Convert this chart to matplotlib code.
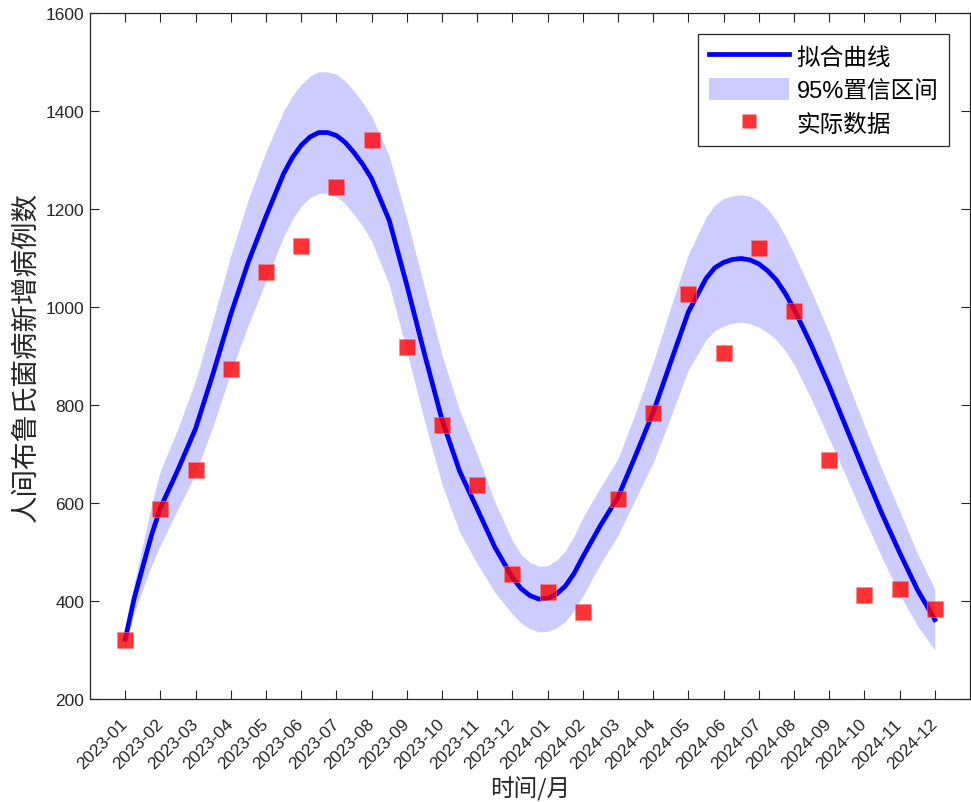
import matplotlib
matplotlib.use("Agg")
import matplotlib.pyplot as plt
from matplotlib.patches import Patch
from matplotlib.lines import Line2D
import matplotlib.transforms as mtrans

plt.rcParams['font.family'] = ['Liberation Sans', 'Noto Sans CJK SC', 'DejaVu Sans']
plt.rcParams['axes.unicode_minus'] = False

# ---- data ----
months = ['2023-01', '2023-02', '2023-03', '2023-04', '2023-05', '2023-06',
          '2023-07', '2023-08', '2023-09', '2023-10', '2023-11', '2023-12',
          '2024-01', '2024-02', '2024-03', '2024-04', '2024-05', '2024-06',
          '2024-07', '2024-08', '2024-09', '2024-10', '2024-11', '2024-12']
actual = [320, 588, 668, 873, 1072, 1125, 1245, 1340, 918, 760, 637, 455,
          418, 378, 608, 783, 1027, 907, 1120, 992, 688, 413, 425, 384]

# fitted curve and 95% band, read along the month index (0 = 2023-01)
fit_t = [0, 0.25, 0.5, 0.75, 1, 1.5, 2, 2.5, 3, 3.5, 4, 4.5, 4.75, 5, 5.25,
         5.5, 5.75, 6, 6.25, 6.5, 6.75, 7, 7.5, 8, 8.5, 9, 9.5, 10, 10.5, 11,
         11.25, 11.5, 11.75, 12, 12.25, 12.5, 12.75, 13, 13.5, 14, 14.5, 15,
         15.5, 16, 16.5, 16.75, 17, 17.25, 17.5, 17.75, 18, 18.25, 18.5,
         18.75, 19, 19.5, 20, 20.5, 21, 21.5, 22, 22.5, 23]
fit_y = [322, 404, 470, 535, 590, 668, 752, 865, 985, 1092, 1185, 1272, 1305,
         1330, 1347, 1356, 1356, 1350, 1336, 1315, 1291, 1262, 1177, 1045,
         905, 770, 665, 588, 510, 448, 425, 411, 404, 405, 414, 430, 456, 490,
         554, 612, 697, 785, 888, 990, 1058, 1080, 1091, 1097, 1099, 1096,
         1088, 1074, 1055, 1028, 996, 921, 839, 751, 663, 578, 499, 424, 362]
band_hi = [337, 434, 515, 597, 666, 752, 850, 975, 1105, 1220, 1317, 1400,
           1431, 1454, 1471, 1480, 1480, 1475, 1461, 1441, 1417, 1389, 1308,
           1180, 1041, 902, 789, 700, 602, 523, 495, 479, 471, 472, 483, 502,
           532, 570, 632, 690, 785, 887, 1000, 1108, 1183, 1208, 1221, 1227,
           1229, 1226, 1217, 1200, 1177, 1145, 1109, 1031, 947, 851, 758, 668,
           584, 498, 424]
band_lo = [307, 374, 425, 473, 514, 588, 660, 758, 866, 964, 1053, 1144, 1179,
           1206, 1223, 1232, 1232, 1225, 1211, 1189, 1165, 1135, 1046, 910,
           769, 638, 541, 476, 418, 373, 355, 343, 337, 338, 345, 358, 380,
           410, 476, 534, 609, 683, 776, 872, 933, 952, 961, 967, 969, 966,
           959, 948, 933, 911, 883, 811, 731, 651, 568, 488, 414, 350, 300]

x_idx = list(range(len(months)))

fig = plt.figure(figsize=(9.71, 8.03), dpi=100)
ax = fig.add_axes([90 / 971, 103 / 803, 880 / 971, 686 / 803])

band_col = (0.8, 0.8, 1.0)
ax.fill_between(fit_t, band_lo, band_hi, color=band_col, linewidth=0, zorder=1)
ax.plot(fit_t, fit_y, color=(0, 0, 1), linewidth=3.4, zorder=2,
        solid_joinstyle='round')
ax.plot(x_idx, actual, linestyle='none', marker='s', markersize=11.5,
        markerfacecolor=(1, 0.0, 0.0, 0.8), markeredgecolor=(1, 0.5, 0.5, 0.6),
        markeredgewidth=0.6, zorder=3)

ax.set_xlim(-1, 24)
ax.set_ylim(200, 1600)
ax.set_yticks(range(200, 1601, 200))
ax.set_xticks(x_idx)
ax.set_xticklabels(months, rotation=45, ha='right', va='center',
                   rotation_mode='anchor')
shift = mtrans.ScaledTranslation(11 / 100, 0, fig.dpi_scale_trans)
for lab in ax.get_xticklabels():
    lab.set_transform(lab.get_transform() + shift)

axis_col = '#262626'
for s in ax.spines.values():
    s.set_color(axis_col)
    s.set_linewidth(0.9)
ax.tick_params(direction='in', length=6.3, width=0.8, colors=axis_col,
               labelsize=12.5, top=True, right=True, labelcolor='#262626')
ax.tick_params(axis='x', pad=16)
ax.tick_params(axis='y', pad=4)

cjk = ['Noto Sans CJK SC', 'DejaVu Sans']
ax.set_xlabel('时间/月', fontsize=17, color='#262626', family=cjk)
ax.set_ylabel('人间布鲁氏菌病新增病例数', fontsize=19.8, color='#262626', family=cjk)
ax.xaxis.set_label_coords(0.5, -0.112)
ax.yaxis.set_label_coords(-0.057, 0.5)

handles = [Line2D([0], [0], color=(0, 0, 1), linewidth=3.4),
           Patch(facecolor=band_col, edgecolor='none'),
           Line2D([0], [0], linestyle='none', marker='s', markersize=9.5,
                  markerfacecolor=(1, 0, 0, 0.8), markeredgecolor='none')]
leg = ax.legend(handles, ['拟合曲线', '95%置信区间', '实际数据'],
                loc='upper right', bbox_to_anchor=(0.976, 0.969),
                fontsize=17, frameon=True, fancybox=False, framealpha=1,
                edgecolor='#262626', handlelength=3.4, handleheight=1.0,
                borderpad=0.45, labelspacing=0.42, handletextpad=0.3,
                borderaxespad=0)
leg.get_frame().set_linewidth(0.9)

fig.savefig('out.png', dpi=100)
